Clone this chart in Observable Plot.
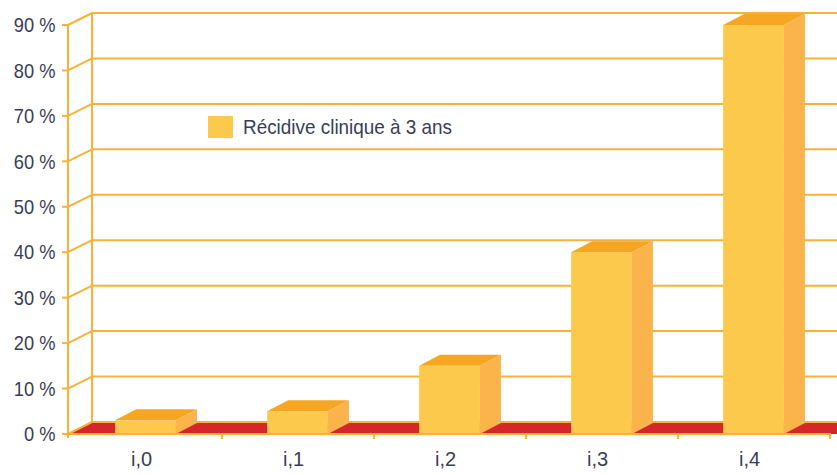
<!DOCTYPE html>
<html>
<head>
<meta charset="utf-8">
<script src="https://cdn.jsdelivr.net/npm/d3@7"></script>
<script src="https://cdn.jsdelivr.net/npm/@observablehq/plot@0.6"></script>
<style>
  html, body { margin: 0; padding: 0; background: #fff; }
  #wrap { position: relative; width: 837px; height: 475px; }
  .lg { position: absolute; font-family: "Liberation Sans", Arial, sans-serif; }
</style>
</head>
<body>
<div id="wrap"></div>
<script>
// ---- data ----
const categories = ["i,0", "i,1", "i,2", "i,3", "i,4"];
const recidive = [3, 5, 15, 40, 90];
const yTicks = [0, 10, 20, 30, 40, 50, 60, 70, 80, 90];
const seriesName = "Récidive clinique à 3 ans";

// ---- styles ----
const FONT = '"Liberation Sans", Arial, sans-serif';
const TEXT = "#3a3d58";
const GRID = "#F9B138";
const FRONT = "#FDC94C";
const TOP = "#F6A620";
const SIDE = "#FBB34B";
const FLOOR = "#D3272B";
const DX = 24, DY = 12;     // wall depth (px)
const BDX = 21, BDY = 11;   // bar depth (px)
const W = 837, H = 475;
const ML = 68, YPAD = 13;

const table = categories.map((c, i) => ({cat: c, value: recidive[i]}));

function el(name, attrs) {
  const e = document.createElementNS("http://www.w3.org/2000/svg", name);
  for (const k in attrs) e.setAttribute(k, attrs[k]);
  return e;
}
function poly(pts, fill, stroke) {
  return el("polygon", {points: pts.map(p => p.join(",")).join(" "), fill, stroke: stroke || "none"});
}

// back walls + floor
function walls(index, scales) {
  const {x, y} = scales;
  const [xl, xr] = x.range();
  const y0 = y(0);
  const g = el("g", {});
  g.appendChild(poly([[xl, y0], [xr + DX + 20, y0], [xr + DX + 20, y0 - DY], [xl + DX, y0 - DY]], FLOOR));
  for (const t of yTicks) {
    g.appendChild(el("line", {x1: xl + DX, x2: W, y1: y(t) - DY, y2: y(t) - DY, stroke: GRID, "stroke-width": 2}));
    g.appendChild(el("line", {x1: xl, y1: y(t), x2: xl + DX, y2: y(t) - DY, stroke: GRID, "stroke-width": 2}));
    g.appendChild(el("line", {x1: xl - 6, x2: xl, y1: y(t), y2: y(t), stroke: GRID, "stroke-width": 2}));
  }
  g.appendChild(el("line", {x1: xl + DX, x2: xl + DX, y1: y(yTicks[yTicks.length - 1]) - DY, y2: y0 - DY, stroke: GRID, "stroke-width": 2}));
  return g;
}

// 3D bars
function bars(index, scales) {
  const {x, y} = scales;
  const bw = x.bandwidth();
  const y0 = y(0);
  const g = el("g", {});
  table.forEach(d => {
    const x0 = x(d.cat) + bw * 0.297;
    const w = bw * 0.4;
    const yv = y(d.value);
    g.appendChild(el("rect", {x: x0, y: yv, width: w, height: y0 - yv, fill: FRONT}));
    g.appendChild(poly([[x0, yv], [x0 + w, yv], [x0 + w + BDX, yv - BDY], [x0 + BDX, yv - BDY]], TOP));
    g.appendChild(poly([[x0 + w, yv], [x0 + w + BDX, yv - BDY], [x0 + w + BDX, y0 - BDY], [x0 + w, y0]], SIDE));
  });
  return g;
}

// front axis lines & ticks
function front(index, scales) {
  const {x, y} = scales;
  const bw = x.bandwidth();
  const [xl, xr] = x.range();
  const y0 = y(0);
  const g = el("g", {});
  g.appendChild(el("line", {x1: xl, x2: xr, y1: y0, y2: y0, stroke: GRID, "stroke-width": 2}));
  g.appendChild(el("line", {x1: xl, x2: xl, y1: y(yTicks[yTicks.length - 1]), y2: y0 + 4, stroke: GRID, "stroke-width": 2}));
  categories.forEach(c => {
    const xe = x(c) + bw;
    g.appendChild(el("line", {x1: xe, x2: xe, y1: y0, y2: y0 + 5, stroke: GRID, "stroke-width": 2}));
  });
  return g;
}

const chart = Plot.plot({
  width: W,
  height: H,
  marginLeft: ML,
  marginRight: 6,
  marginTop: 25,
  marginBottom: 41,
  style: {fontFamily: FONT, fontSize: "19px", color: TEXT, background: "#fff", overflow: "visible"},
  x: {type: "band", domain: categories, padding: 0, label: null},
  y: {domain: [0, 90], label: null},
  marks: [
    walls, bars, front,
    Plot.axisX({tickSize: 0, tickPadding: 17, dx: -5, label: null, fontSize: 20, fill: TEXT}),
    Plot.axisY({ticks: yTicks, tickFormat: d => d + " %", tickSize: 0, tickPadding: YPAD, label: null, fontSize: 21, fill: TEXT})
  ]
});

const wrap = document.getElementById("wrap");
wrap.appendChild(chart);

// condensed look for the y tick labels: squeeze the group horizontally about its right edge
const yg = chart.querySelector('g[aria-label="y-axis tick label"]');
if (yg) {
  const ax = ML - YPAD;
  const holder = document.createElementNS("http://www.w3.org/2000/svg", "g");
  holder.setAttribute("transform", `translate(${ax},0) scale(0.87,1) translate(${-ax},0)`);
  yg.parentNode.insertBefore(holder, yg);
  holder.appendChild(yg);
}

// legend
const sw = document.createElement("div");
sw.style.cssText = `position:absolute;left:208px;top:116px;width:25px;height:22px;background:${FRONT};`;
wrap.appendChild(sw);
const lt = document.createElement("div");
lt.className = "lg";
lt.textContent = seriesName;
lt.style.cssText += `left:243px;top:113px;font-size:21px;line-height:28px;color:${TEXT};white-space:nowrap;transform:scaleX(0.9);transform-origin:0 50%;`;
wrap.appendChild(lt);
</script>
</body>
</html>
